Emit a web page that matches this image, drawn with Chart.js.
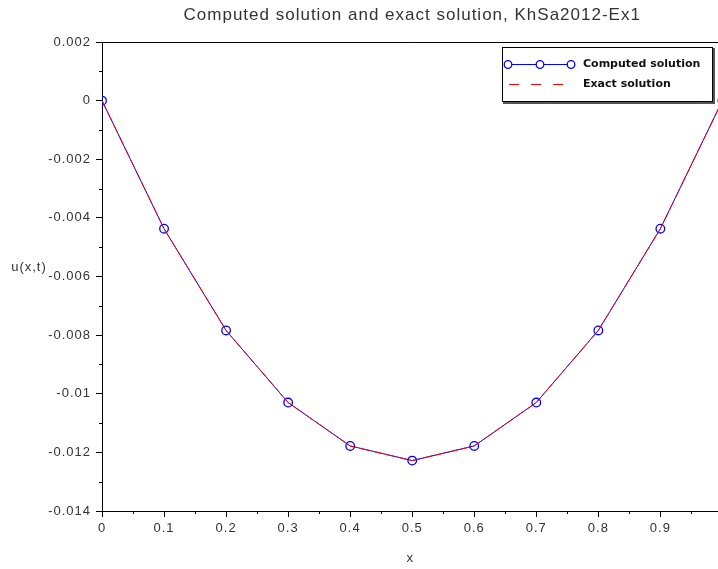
<!DOCTYPE html>
<html>
<head>
<meta charset="utf-8">
<script src="https://cdn.jsdelivr.net/npm/chart.js@4.4.1/dist/chart.umd.min.js"></script>
<style>
  html, body { margin: 0; padding: 0; background: #fff; overflow: hidden; }
  #wrap { width: 728px; height: 569px; }
</style>
</head>
<body>
<div id="wrap"><canvas id="chart-sol" width="728" height="569"></canvas></div>
<script>
// values
let xValues = [0, 0.1, 0.2, 0.3, 0.4, 0.5, 0.6, 0.7, 0.8, 0.9, 1];
let computedValues = [0, -0.00437, -0.00784, -0.01030, -0.01178, -0.01228, -0.01178, -0.01030, -0.00784, -0.00437, 0];
let exactValues = [0, -0.00437, -0.00784, -0.01030, -0.01178, -0.01228, -0.01178, -0.01030, -0.00784, -0.00437, 0];
let seriesLabels = ['Computed solution', 'Exact solution'];
let seriesColors = ['#0000ff', '#ff0000'];

let titleText = 'Computed solution and exact solution, KhSa2012-Ex1';
let xTitle = 'x';
let yTitle = 'u(x,t)';

const FONT = '"Liberation Sans", Arial, sans-serif';

function toPoints(ys) {
    return xValues.map((x, i) => ({ x: x, y: ys[i] }));
}

// the reference text is a bit spaced out
const spacing = {
    id: 'spacing',
    beforeLayout(chart) { chart.ctx.letterSpacing = '1px'; },
    beforeDraw(chart) { chart.ctx.letterSpacing = '1px'; }
};

// minor ticks, axis labels and legend box
const extras = {
    id: 'extras',
    afterDraw(chart) {
        const ctx = chart.ctx;
        const xs = chart.scales.x, ys = chart.scales.y;
        const a = chart.chartArea;
        ctx.save();
        ctx.strokeStyle = '#000';
        ctx.lineWidth = 1;
        // minor ticks
        ctx.beginPath();
        for (let v = 0.05; v < 1; v += 0.1) {
            const px = Math.round(xs.getPixelForValue(v)) + 0.5;
            ctx.moveTo(px, a.bottom);
            ctx.lineTo(px, a.bottom + 3);
        }
        for (let v = -0.013; v < 0.002; v += 0.002) {
            const py = Math.round(ys.getPixelForValue(v)) + 0.5;
            ctx.moveTo(a.left, py);
            ctx.lineTo(a.left - 3, py);
        }
        ctx.stroke();
        // top border
        ctx.beginPath();
        ctx.moveTo(a.left, a.top + 0.5);
        ctx.lineTo(a.right, a.top + 0.5);
        ctx.stroke();

        // axis labels
        ctx.fillStyle = '#333';
        ctx.font = '13px ' + FONT;
        ctx.letterSpacing = '1px';
        ctx.textAlign = 'center';
        ctx.textBaseline = 'middle';
        ctx.fillText(xTitle, xs.getPixelForValue(0.5) - 2, 558);
        ctx.fillText(yTitle, 29, 267);

        // legend
        const lx = 502, ly = 47, lw = 211, lh = 55;
        ctx.fillStyle = '#555';
        ctx.fillRect(lx + 1, ly + 1, lw + 1, lh + 1);
        ctx.fillStyle = '#fff';
        ctx.fillRect(lx, ly, lw, lh);
        ctx.strokeStyle = '#000';
        ctx.strokeRect(lx + 0.5, ly + 0.5, lw - 1, lh - 1);

        const r1 = 64, r2 = 84;
        ctx.strokeStyle = seriesColors[0];
        ctx.beginPath();
        ctx.moveTo(508, r1 + 0.5); ctx.lineTo(571, r1 + 0.5);
        ctx.stroke();
        ctx.lineWidth = 1.3;
        [508, 540, 571].forEach(cx => {
            ctx.beginPath();
            ctx.fillStyle = '#fff';
            ctx.arc(cx, r1 + 0.5, 3.8, 0, Math.PI * 2);
            ctx.fill();
            ctx.stroke();
        });
        ctx.lineWidth = 1;
        ctx.strokeStyle = seriesColors[1];
        ctx.setLineDash([10, 12]);
        ctx.beginPath();
        ctx.moveTo(509, r2 + 0.5); ctx.lineTo(571, r2 + 0.5);
        ctx.stroke();
        ctx.setLineDash([]);

        ctx.fillStyle = '#111';
        ctx.font = 'bold 11px "DejaVu Sans", sans-serif';
        ctx.letterSpacing = '0px';
        ctx.textAlign = 'left';
        ctx.fillText(seriesLabels[0], 583, r1);
        ctx.fillText(seriesLabels[1], 583, r2);
        ctx.restore();
    }
};

const ctxSol = document.getElementById('chart-sol').getContext('2d');

let chartSol = new Chart(ctxSol, {
    type: 'line',
    data: {
        datasets: [{
            label: seriesLabels[0],
            data: toPoints(computedValues),
            borderColor: seriesColors[0],
            borderWidth: 1,
            pointRadius: 4.3,
            pointBorderWidth: 1.3,
            pointBorderColor: seriesColors[0],
            pointBackgroundColor: 'rgba(255,255,255,0)',
            tension: 0,
            order: 2
        }, {
            label: seriesLabels[1],
            data: toPoints(exactValues),
            borderColor: seriesColors[1],
            borderWidth: 1,
            borderDash: [10, 3],
            pointRadius: 0,
            tension: 0,
            order: 1
        }]
    },
    options: {
        responsive: false,
        animation: false,
        layout: { padding: { left: 0, right: 2, top: 0, bottom: 0 } },
        plugins: {
            legend: { display: false },
            tooltip: { enabled: false },
            title: {
                display: true,
                fullSize: false,
                text: titleText,
                color: '#333',
                font: { family: FONT, size: 17, weight: 'normal' },
                padding: { top: 5, bottom: 16.6 }
            }
        },
        scales: {
            x: {
                type: 'linear',
                min: 0,
                max: 1,
                afterFit(s) { s.height = 58; s.paddingRight = 0; },
                ticks: {
                    stepSize: 0.1,
                    autoSkip: false,
                    maxRotation: 0,
                    padding: 4,
                    color: '#333',
                    font: { family: FONT, size: 13 },
                    callback: v => v >= 1 ? '' : String(+v.toFixed(1))
                },
                grid: { drawOnChartArea: false, tickLength: 6, color: '#000' },
                border: { color: '#000' }
            },
            y: {
                type: 'linear',
                min: -0.014,
                max: 0.002,
                afterFit(s) { s.width = 102; },
                ticks: {
                    stepSize: 0.002,
                    padding: 5,
                    color: '#333',
                    font: { family: FONT, size: 13 },
                    callback: v => String(+v.toFixed(3))
                },
                grid: { drawOnChartArea: false, tickLength: 6, color: '#000' },
                border: { color: '#000' }
            }
        }
    },
    plugins: [spacing, extras]
});
</script>
</body>
</html>
